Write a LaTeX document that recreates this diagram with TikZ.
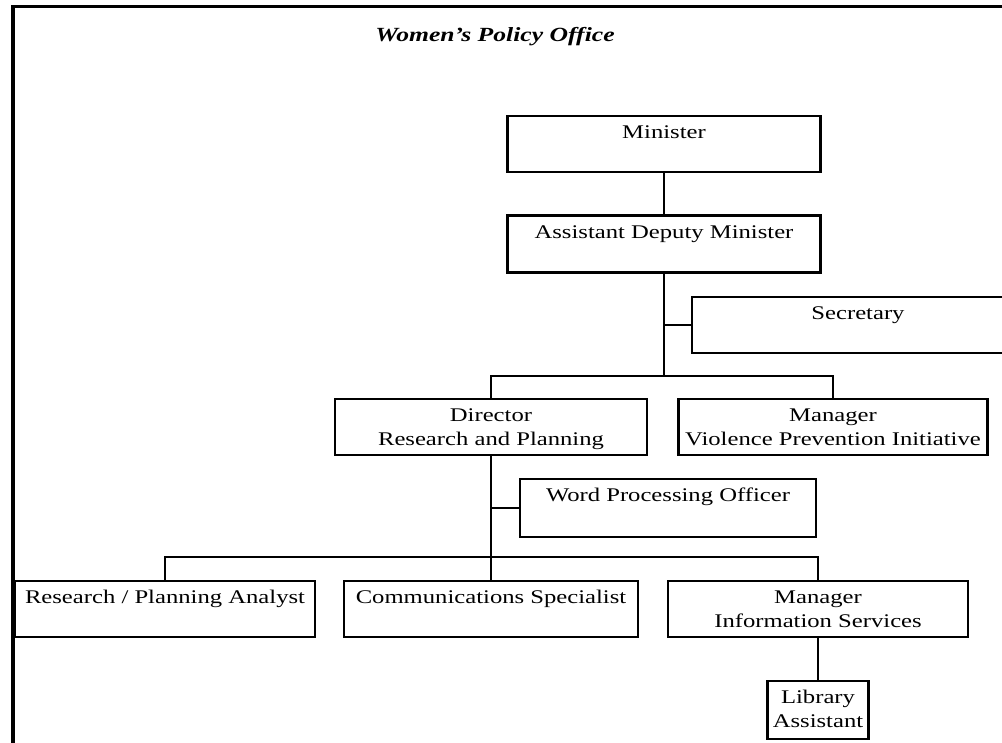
\documentclass[tikz,border=0pt]{standalone}
\usepackage{graphicx}
\usepackage{fontspec}
\setmainfont{Liberation Serif}
\usepackage{tikz}
\newcommand{\wide}[1]{\scalebox{1.275}[1]{\fontsize{14.5}{18}\selectfont\begin{tabular}{@{}c@{}}#1\end{tabular}}}
\begin{document}
\begin{tikzpicture}[x=0.75pt,y=0.75pt,yscale=-1,xscale=1,
    post/.style={draw, line width=1.6pt, inner sep=0pt},
    role/.style={label={[anchor=north, inner sep=5pt]north:\wide{#1}}},
    link/.style={line width=1.6pt}]
    \useasboundingbox (0,0) rectangle (1002,742);
    \clip (0,0) rectangle (1002,742);
    % frame and title
    \draw [line width=2.6pt] (13,750) -- (13,6.5) -- (1010,6.5) ;
    \node [anchor=base, inner sep=0pt] (title) at (495,42) {\scalebox{1.04}{\wide{\bfseries\itshape Women's Policy Office}}};
    % boxes
    \node [post, minimum width=234.75pt, minimum height=42pt, role={Minister}] (min) at (664,144) {};
    \node [post, minimum width=234.75pt, minimum height=42.75pt, role={Assistant Deputy Minister}] (adm) at (664,244) {};
    \node [post, minimum width=249pt, minimum height=42pt, role={Secretary}] (sec) at (858,325) {};
    \node [post, minimum width=234pt, minimum height=42pt, role={Director\\Research and Planning}] (dir) at (491,427) {};
    \node [post, minimum width=231.75pt, minimum height=42pt, role={Manager\\Violence Prevention Initiative}] (mvp) at (833,427) {};
    \node [post, minimum width=222pt, minimum height=43.5pt, role={Word Processing Officer}] (wpo) at (668,508) {};
    \node [post, minimum width=225pt, minimum height=42pt, role={Research / Planning Analyst}] (rpa) at (165,609) {};
    \node [post, minimum width=220.5pt, minimum height=42pt, role={Communications Specialist}] (cs) at (491,609) {};
    \node [post, minimum width=225pt, minimum height=42pt, role={Manager\\Information Services}] (mis) at (818,609) {};
    \node [post, minimum width=75.75pt, minimum height=43.5pt, role={Library\\Assistant}] (lib) at (818,710) {};
    % connectors
    \coordinate (bus1) at (664,376);
    \coordinate (bus2) at (491,557);
    \draw [link] (min.south) -- (adm.north) ;
    \draw [link] (adm.south) -- (bus1) ;
    \draw [link] (sec.west) -- (sec.west -| adm.south) ;
    \draw [link] (dir.north) |- (bus1) -| (mvp.north) ;
    \draw [link] (dir.south) -- (cs.north) ;
    \draw [link] (wpo.west) -- (wpo.west -| dir.south) ;
    \draw [link] (rpa.north) |- (bus2) -| (mis.north) ;
    \draw [link] (mis.south) -- (lib.north) ;
\end{tikzpicture}
\end{document}
